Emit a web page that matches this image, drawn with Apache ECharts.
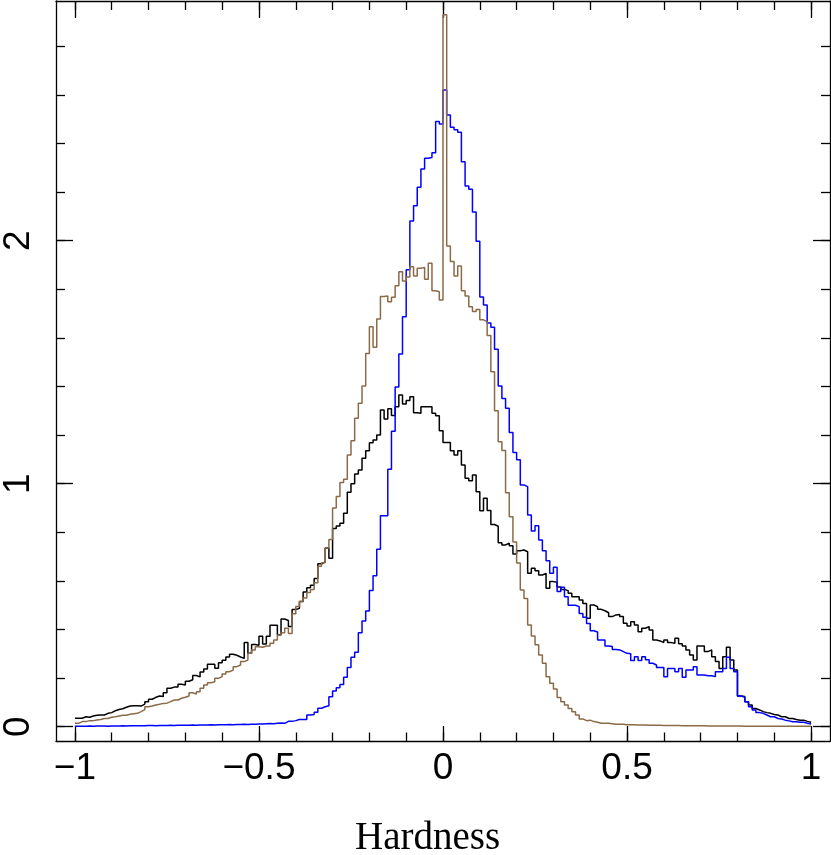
<!DOCTYPE html>
<html><head><meta charset="utf-8">
<script src="https://cdn.jsdelivr.net/npm/echarts@6/dist/echarts.min.js"></script>
<style>html,body{margin:0;padding:0;background:#fff}#c{width:831px;height:855px}</style>
</head><body><div id="c"></div><script>
// Histogram bins: left edges start at -1, width 0.01, 200 bins
const binStart = -1;
const binWidth = 0.01;

const xMajorTicks = [-1, -0.5, 0, 0.5, 1];
const xMinorTicks = [-1, -0.9, -0.8, -0.7, -0.6, -0.5, -0.4, -0.3, -0.2, -0.1, 0, 0.1, 0.2, 0.3, 0.4, 0.5, 0.6, 0.7, 0.8, 0.9, 1];
const yMajorTicks = [0, 1, 2];
const yMinorTicks = [0, 0.2, 0.4, 0.6, 0.8, 1, 1.2, 1.4, 1.6, 1.8, 2, 2.2, 2.4, 2.6, 2.8];
const xTitle = 'Hardness';

const blackValues = [
0.035,0.035,0.041,0.039,0.044,0.047,0.048,0.048,0.055,0.058,
0.066,0.071,0.074,0.080,0.085,0.086,0.086,0.085,0.093,0.103,
0.113,0.121,0.126,0.124,0.140,0.158,0.163,0.163,0.175,0.172,
0.187,0.193,0.211,0.205,0.225,0.237,0.257,0.257,0.241,0.263,
0.273,0.287,0.298,0.294,0.287,0.281,0.347,0.302,0.338,0.335,
0.372,0.340,0.372,0.417,0.417,0.378,0.443,0.437,0.412,0.482,
0.487,0.515,0.554,0.572,0.582,0.610,0.670,0.678,0.735,0.693,
0.816,0.826,0.837,0.878,0.965,1.000,1.040,1.056,1.105,1.135,
1.168,1.180,1.200,1.303,1.266,1.308,1.280,1.317,1.365,1.328,
1.342,1.358,1.292,1.290,1.317,1.317,1.317,1.290,1.279,1.218,
1.169,1.169,1.135,1.118,1.135,1.077,1.022,1.012,1.036,0.967,
0.889,0.940,0.890,0.832,0.825,0.757,0.748,0.755,0.745,0.711,
0.724,0.727,0.720,0.631,0.652,0.642,0.624,0.631,0.570,0.597,
0.594,0.575,0.565,0.560,0.549,0.535,0.535,0.521,0.507,0.446,
0.501,0.494,0.483,0.477,0.469,0.453,0.460,0.462,0.453,0.426,
0.414,0.432,0.418,0.391,0.405,0.412,0.398,0.357,0.353,0.346,
0.357,0.346,0.343,0.364,0.341,0.332,0.316,0.295,0.274,0.332,
0.332,0.309,0.316,0.288,0.268,0.240,0.288,0.327,0.274,0.233,
0.126,0.124,0.103,0.089,0.075,0.069,0.062,0.058,0.055,0.050,
0.048,0.041,0.041,0.034,0.034,0.030,0.027,0.027,0.022,0.018
];

const blueValues = [
0.002,0.002,0.002,0.003,0.002,0.003,0.003,0.003,0.002,0.003,
0.003,0.003,0.004,0.003,0.004,0.004,0.004,0.004,0.004,0.005,
0.005,0.004,0.005,0.005,0.005,0.006,0.005,0.006,0.006,0.006,
0.006,0.007,0.006,0.007,0.007,0.007,0.008,0.007,0.008,0.008,
0.008,0.009,0.008,0.009,0.009,0.010,0.009,0.010,0.010,0.011,
0.011,0.012,0.013,0.012,0.014,0.015,0.014,0.022,0.022,0.025,
0.030,0.030,0.030,0.048,0.050,0.059,0.076,0.082,0.086,0.123,
0.147,0.160,0.174,0.203,0.244,0.286,0.306,0.387,0.435,0.476,
0.560,0.621,0.730,0.868,0.868,1.059,1.216,1.398,1.534,1.687,
1.880,2.081,2.144,2.220,2.295,2.339,2.342,2.362,2.490,2.480,
2.620,2.517,2.467,2.456,2.446,2.325,2.225,2.211,2.118,1.997,
1.768,1.735,1.661,1.644,1.553,1.402,1.350,1.310,1.211,1.128,
1.098,0.995,0.988,0.871,0.805,0.827,0.768,0.724,0.683,0.631,
0.656,0.556,0.574,0.535,0.500,0.500,0.494,0.466,0.450,0.425,
0.395,0.390,0.357,0.357,0.332,0.330,0.318,0.316,0.309,0.302,
0.300,0.272,0.288,0.272,0.288,0.275,0.261,0.254,0.244,0.244,
0.206,0.240,0.240,0.226,0.240,0.203,0.233,0.233,0.247,0.213,
0.213,0.210,0.210,0.206,0.226,0.226,0.240,0.286,0.240,0.226,
0.126,0.121,0.103,0.082,0.069,0.058,0.055,0.048,0.041,0.041,
0.034,0.032,0.027,0.024,0.020,0.020,0.018,0.018,0.014,0.011
];

const brownValues = [
0.014,0.021,0.021,0.025,0.025,0.028,0.030,0.034,0.034,0.039,
0.041,0.044,0.047,0.047,0.051,0.053,0.055,0.062,0.070,0.082,
0.085,0.089,0.092,0.096,0.097,0.103,0.110,0.110,0.117,0.121,
0.126,0.140,0.134,0.144,0.158,0.172,0.181,0.185,0.199,0.206,
0.217,0.226,0.233,0.247,0.254,0.268,0.274,0.302,0.316,0.329,
0.327,0.332,0.332,0.343,0.357,0.377,0.387,0.405,0.384,0.465,
0.495,0.515,0.530,0.552,0.565,0.592,0.660,0.675,0.735,0.770,
0.900,0.947,1.005,1.018,1.118,1.177,1.269,1.331,1.402,1.536,
1.646,1.561,1.678,1.770,1.772,1.749,1.767,1.814,1.872,1.834,
1.850,1.893,1.855,1.886,1.890,1.841,1.907,1.794,1.790,1.756,
2.929,1.978,1.914,1.855,1.896,1.794,1.772,1.728,1.708,1.717,
1.674,1.667,1.610,1.460,1.300,1.173,1.136,0.963,0.864,0.760,
0.674,0.563,0.528,0.418,0.373,0.337,0.295,0.261,0.206,0.179,
0.155,0.120,0.103,0.089,0.075,0.062,0.048,0.032,0.025,0.027,
0.021,0.018,0.014,0.014,0.014,0.012,0.010,0.010,0.010,0.008,
0.008,0.008,0.007,0.007,0.007,0.006,0.006,0.006,0.006,0.005,
0.005,0.005,0.005,0.005,0.004,0.004,0.004,0.004,0.004,0.004,
0.004,0.003,0.003,0.003,0.003,0.003,0.003,0.003,0.003,0.003,
0.003,0.002,0.002,0.002,0.002,0.002,0.002,0.002,0.002,0.002,
0.002,0.002,0.002,0.002,0.002,0.002,0.002,0.002,0.002,0.002
];

function stepData(vals) {
  const d = vals.map((v, i) => [+(binStart + i * binWidth).toFixed(4), v]);
  d.push([+(binStart + vals.length * binWidth).toFixed(4), vals[vals.length - 1]]);
  return d;
}
function fmt(v) {
  if (v < 0) return '\u2212' + String(Math.abs(v));
  return String(v);
}

const XMIN = -1.0514, XMAX = 1.0514, YMIN = -0.0588, YMAX = 2.986;
const lineCol = '#000';
const lw = 1.3;
const sw = 1.5;

function xAx(pos, ticks, len, labels, line) {
  return {
    type: 'value', position: pos, min: XMIN, max: XMAX,
    axisLine: { show: line, onZero: false, lineStyle: { color: lineCol, width: lw } },
    axisTick: { show: true, inside: true, length: len, customValues: ticks, lineStyle: { color: lineCol, width: lw } },
    axisLabel: labels ? { show: true, customValues: ticks, formatter: fmt, color: '#000', fontSize: 37, fontFamily: 'Liberation Sans, Arial, sans-serif', margin: 9 } : { show: false },
    splitLine: { show: false }
  };
}
function yAx(pos, ticks, len, labels, line) {
  return {
    type: 'value', position: pos, min: YMIN, max: YMAX,
    axisLine: { show: line, onZero: false, lineStyle: { color: lineCol, width: lw } },
    axisTick: { show: true, inside: true, length: len, customValues: ticks, lineStyle: { color: lineCol, width: lw } },
    axisLabel: labels ? { show: true, customValues: ticks, rotate: 90, formatter: fmt, color: '#000', fontSize: 37, fontFamily: 'Liberation Sans, Arial, sans-serif', margin: 19 } : { show: false },
    splitLine: { show: false }
  };
}

const chart = echarts.init(document.getElementById('c'), null, { renderer: 'canvas' });
chart.setOption({
  animation: false,
  backgroundColor: '#fff',
  grid: { left: 52, right: 1, top: 1, bottom: 114, containLabel: false },
  xAxis: [
    xAx('bottom', xMajorTicks, 15, true, true),
    xAx('bottom', xMinorTicks, 8.5, false, false),
    xAx('top', xMajorTicks, 17, false, true),
    xAx('top', xMinorTicks, 9, false, false)
  ],
  yAxis: [
    yAx('left', yMajorTicks, 17, true, true),
    yAx('left', yMinorTicks, 9, false, false),
    yAx('right', yMajorTicks, 17, false, true),
    yAx('right', yMinorTicks, 9, false, false)
  ],
  graphic: [{
    type: 'text', left: 355, top: 819,
    style: { text: xTitle, fill: '#000', font: '39px "Liberation Serif", "Times New Roman", serif' }
  }],
  series: [
    { name: 'black', type: 'line', step: 'end', data: stepData(blackValues), showSymbol: false, symbol: 'none', z: 2,
      lineStyle: { color: '#000000', width: sw }, itemStyle: { color: '#000000' } },
    { name: 'blue', type: 'line', step: 'end', data: stepData(blueValues), showSymbol: false, symbol: 'none', z: 3,
      lineStyle: { color: '#0000ff', width: sw }, itemStyle: { color: '#0000ff' } },
    { name: 'brown', type: 'line', step: 'end', data: stepData(brownValues), showSymbol: false, symbol: 'none', z: 4,
      lineStyle: { color: '#8b6a47', width: sw }, itemStyle: { color: '#8b6a47' } }
  ]
});
</script></body></html>
